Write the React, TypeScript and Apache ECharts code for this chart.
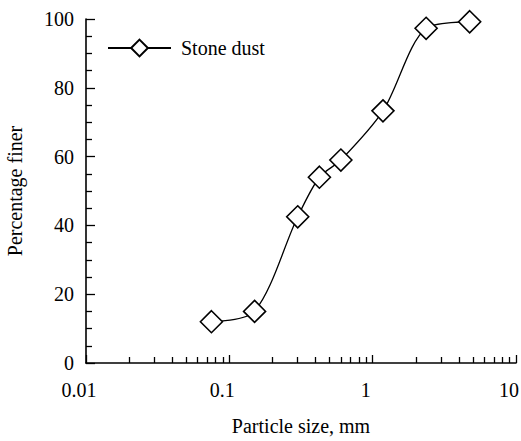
import React, { useEffect, useRef } from "react";
import * as echarts from "echarts";

// Sieve sizes (mm) and the percentage passing each one
const particleSize = [0.075, 0.15, 0.3, 0.425, 0.6, 1.18, 2.36, 4.75];
const percentFiner = [12, 15, 42.5, 54, 59, 73.3, 97.3, 99.2];

const xTickLabels = ["0.01", "0.1", "1", "10"];
const yTickLabels = ["0", "20", "40", "60", "80", "100"];

const seriesName = "Stone dust";
const FONT = "Liberation Serif";

export default function App() {
  const ref = useRef<HTMLDivElement>(null);

  useEffect(() => {
    if (!ref.current) return;
    const chart = echarts.init(ref.current, null, { renderer: "svg" });

    const axisText = { fontFamily: FONT, fontSize: 20, color: "#000" };

    chart.setOption({
      animation: false,
      backgroundColor: "#fff",
      grid: {
        left: 86,
        right: 5,
        top: 19,
        bottom: 78,
        containLabel: false,
        outerBoundsMode: "none",
      },
      legend: {
        left: 102,
        top: 33,
        itemWidth: 63,
        itemHeight: 21,
        itemGap: 10,
        textStyle: { ...axisText, padding: [0, 0, 0, 5] },
        data: [seriesName],
      },
      xAxis: {
        type: "log",
        logBase: 10,
        min: 0.01,
        max: 10,
        name: "Particle size, mm",
        nameLocation: "middle",
        nameGap: 53,
        nameTextStyle: axisText,
        axisLine: { lineStyle: { color: "#000", width: 1.6 } },
        axisTick: { inside: true, length: 8, lineStyle: { color: "#000", width: 1.3 } },
        minorTick: { show: true, splitNumber: 9, length: 6, lineStyle: { color: "#000", width: 1.3 } },
        splitLine: { show: false },
        minorSplitLine: { show: false },
        axisLabel: {
          ...axisText,
          margin: 17,
          padding: [0, 14, 0, 0],
          formatter: (v: number) => {
            const hit = xTickLabels.find((l) => Math.abs(Number(l) - v) < v * 1e-6);
            return hit ?? "";
          },
        },
      },
      yAxis: {
        type: "value",
        min: 0,
        max: 100,
        interval: 20,
        name: "Percentage finer",
        nameLocation: "middle",
        nameGap: 61,
        nameTextStyle: axisText,
        axisLine: { show: true, lineStyle: { color: "#000", width: 1.6 } },
        axisTick: { show: true, inside: true, length: 9, lineStyle: { color: "#000", width: 1.3 } },
        minorTick: { show: true, splitNumber: 4, length: 6, lineStyle: { color: "#000", width: 1.3 } },
        splitLine: { show: false },
        axisLabel: {
          ...axisText,
          margin: 12,
          formatter: (v: number) => yTickLabels.find((l) => Number(l) === v) ?? "",
        },
      },
      series: [
        {
          name: seriesName,
          type: "line",
          data: particleSize.map((x, i) => [x, percentFiner[i]]),
          smooth: 0.3,
          symbol: "diamond",
          symbolSize: 22,
          lineStyle: { color: "#000", width: 1.3 },
          itemStyle: { color: "#fff", borderColor: "#000", borderWidth: 1.6 },
          z: 3,
        },
      ],
    });

    return () => chart.dispose();
  }, []);

  return <div ref={ref} style={{ width: 521, height: 441, position: "absolute", left: 0, top: 0 }} />;
}
